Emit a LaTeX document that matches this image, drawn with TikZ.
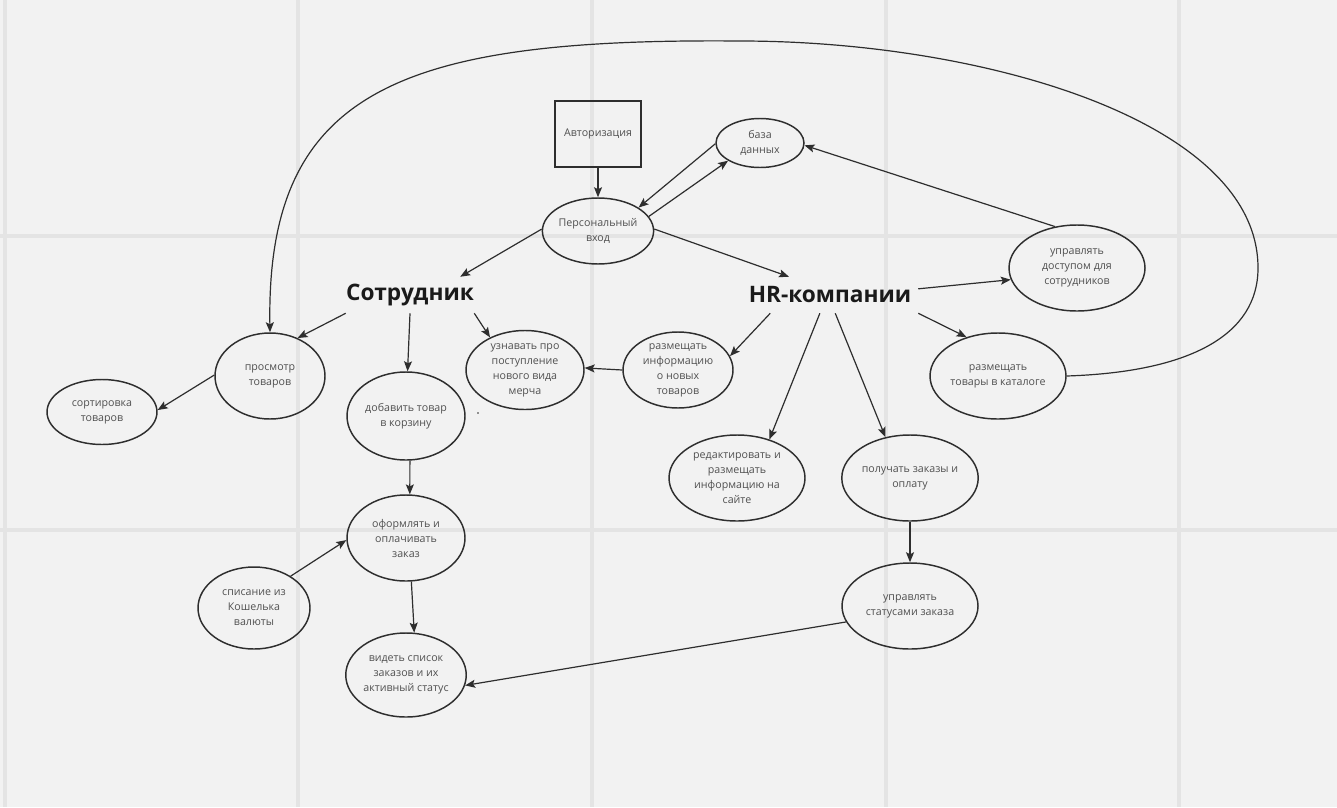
\documentclass[tikz,border=0pt]{standalone}
\usepackage{fontspec}
\setmainfont{Open Sans}
\usetikzlibrary{shapes.geometric,arrows.meta}
\definecolor{bg}{HTML}{F2F2F2}
\definecolor{gridc}{HTML}{E4E4E4}
\definecolor{linec}{HTML}{2E2E2E}
\definecolor{txt}{HTML}{505050}
\definecolor{bigtxt}{HTML}{1A1A1A}
\tikzset{
  el/.style args={#1/#2}{ellipse, draw=linec, line width=1.1pt,
    minimum width=#1*0.75pt, minimum height=#2*0.75pt, inner sep=0pt,
    align=center, text=txt, font=\fontsize{8}{11.25}\selectfont},
  boxn/.style={rectangle, draw=linec, line width=1.1pt, minimum width=64.5pt,
    minimum height=49.5pt, inner sep=0pt, align=center, text=txt,
    font=\fontsize{8}{11.25}\selectfont},
  big/.style={rectangle, inner sep=0pt, text=bigtxt,
    font=\fontsize{17}{20}\selectfont\bfseries},
  arr/.style={draw=linec, line width=0.9pt, -{Stealth[length=7.5pt,width=6pt,inset=1.5pt]}},
  gridl/.style={draw=gridc, line width=3pt}
}
\begin{document}
\begin{tikzpicture}[x=0.75pt,y=-0.75pt]
% background and grid
\path[fill=bg] (0,0) rectangle (1337,807);
\useasboundingbox (0,0) rectangle (1337,807);
\foreach \gx in {5,298,592,886,1179} \draw[gridl] (\gx,0) -- (\gx,807);
\foreach \gy in {236,530} \draw[gridl] (0,\gy) -- (1337,\gy);

% nodes
\node[boxn] (auth) at (598,134) {Авторизация};
\node[el=88/49] (db) at (760,143) {база\\данных};
\node[el=108/66] (pers) at (598,231) {Персональный\\вход};
\node[big, minimum width=96pt, minimum height=27pt] (emp) at (410,295) {Сотрудник};
\node[big, minimum width=132pt, minimum height=27pt] (hr) at (830,295) {HR-компании};
\node[el=136/86] (access) at (1077,268) {управлять\\доступом для\\сотрудников};
\node[el=110/86] (view) at (270,376) {просмотр\\товаров};
\node[el=110/65] (sort) at (102,412) {сортировка\\товаров};
\node[el=118/88] (add) at (406,416) {добавить товар\\в корзину};
\node[el=118/79] (learn) at (525,370) {узнавать про\\поступление\\нового вида\\мерча};
\node[el=110/76] (info) at (678,370) {размещать\\информацию\\о новых\\товаров};
\node[el=136/86] (cat) at (998,376) {размещать\\товары в каталоге};
\node[el=136/86] (edit) at (737,478) {редактировать и\\размещать\\информацию на\\сайте};
\node[el=136/86] (recv) at (910,478) {получать заказы и\\оплату};
\node[el=118/86] (order) at (406,538) {оформлять и\\оплачивать\\заказ};
\node[el=112/82] (wallet) at (254,608) {списание из\\Кошелька\\валюты};
\node[el=118/84] (see) at (406,675) {видеть список\\заказов и их\\активный статус};
\node[el=136/86] (status) at (910,606) {управлять\\статусами заказа};

% small dot
\fill[linec] (478,413) circle (0.9);

% connectors
\draw[arr] (auth.south) -- (pers.north);
\draw[arr] (db.181) -- (pers.30);
\draw[arr] (pers.16) -- (db.209);
\draw[arr] (pers.178) -- (emp.20);
\draw[arr] (pers.2) -- (hr.156);
\draw[arr] (access.118) -- (db.357);
\draw[arr] (hr.4) -- (access.190);
\draw[arr] (hr.south east) -- (cat.129);
\draw[arr] (hr.197) -- (info.15);
\draw[arr] (hr.241) -- (edit.50);
\draw[arr] (hr.286) -- (recv.121);
\draw[arr] (recv.south) -- (status.north);
\draw[arr] (status.194) -- (see.350);
\draw[arr] (info.180) -- (learn.2);
\draw[arr] (emp.south west) -- (view.54);
\draw[arr] (emp.south) -- (add.88);
\draw[arr] (emp.south east) -- (learn.137);
\draw[arr] (view.179) -- (sort.2);
\draw[arr] (add.-85) -- (order.85);
\draw[arr] (order.-83) -- (see.79);
\draw[arr] (wallet.41) -- (order.182);
\coordinate (loopR) at (1258,268);
\coordinate (loopT) at (740,41);
\draw[arr] (cat.east) .. controls (1190,372) and (1258,335) .. (loopR)
  .. controls (1258,120) and (980,41) .. (loopT)
  .. controls (400,38) and (266,90) .. (view.north);
\end{tikzpicture}
\end{document}
